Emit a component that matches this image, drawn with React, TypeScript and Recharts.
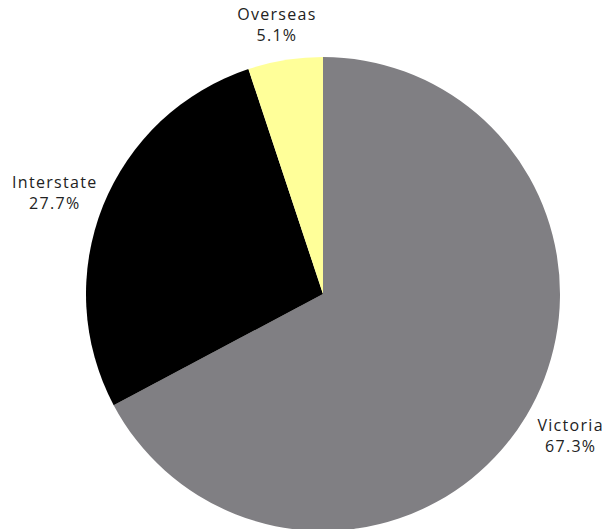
import React from 'react';
import { PieChart, Pie, Cell } from 'recharts';

const regions = ['Victoria', 'Interstate', 'Overseas'];
const shares = [67.3, 27.7, 5.1];
const colors = ['#807f83', '#000000', '#ffff99'];

const data = regions.map((name, i) => ({ name, value: shares[i] }));

const RADIAN = Math.PI / 180;

function renderLabel(props: any) {
  const { cx, cy, midAngle, outerRadius, index } = props;
  const r = outerRadius + 36;
  const cos = Math.cos(-midAngle * RADIAN);
  const sin = Math.sin(-midAngle * RADIAN);
  const x = cx + r * cos + cos * 16;
  const y = cy + r * sin;
  return (
    <text
      x={x}
      y={y}
      textAnchor="middle"
      fill="#222"
      fontSize={16}
      fontFamily="'Open Sans', sans-serif"
      letterSpacing={1.3}
    >
      <tspan x={x} dy={-4}>{regions[index]}</tspan>
      <tspan x={x} dy={21}>{`${shares[index].toFixed(1)}%`}</tspan>
    </text>
  );
}

export default function App() {
  return (
    <div style={{ position: 'absolute', left: 0, top: 0, background: '#fff' }}>
      <PieChart width={615} height={529} margin={{ top: 0, right: 0, bottom: 0, left: 0 }}>
        <Pie
          data={data}
          dataKey="value"
          cx={323}
          cy={294}
          outerRadius={237}
          startAngle={90}
          endAngle={-270}
          stroke="none"
          label={renderLabel}
          labelLine={false}
          isAnimationActive={false}
        >
          {data.map((entry, i) => (
            <Cell key={entry.name} fill={colors[i]} />
          ))}
        </Pie>
      </PieChart>
    </div>
  );
}
